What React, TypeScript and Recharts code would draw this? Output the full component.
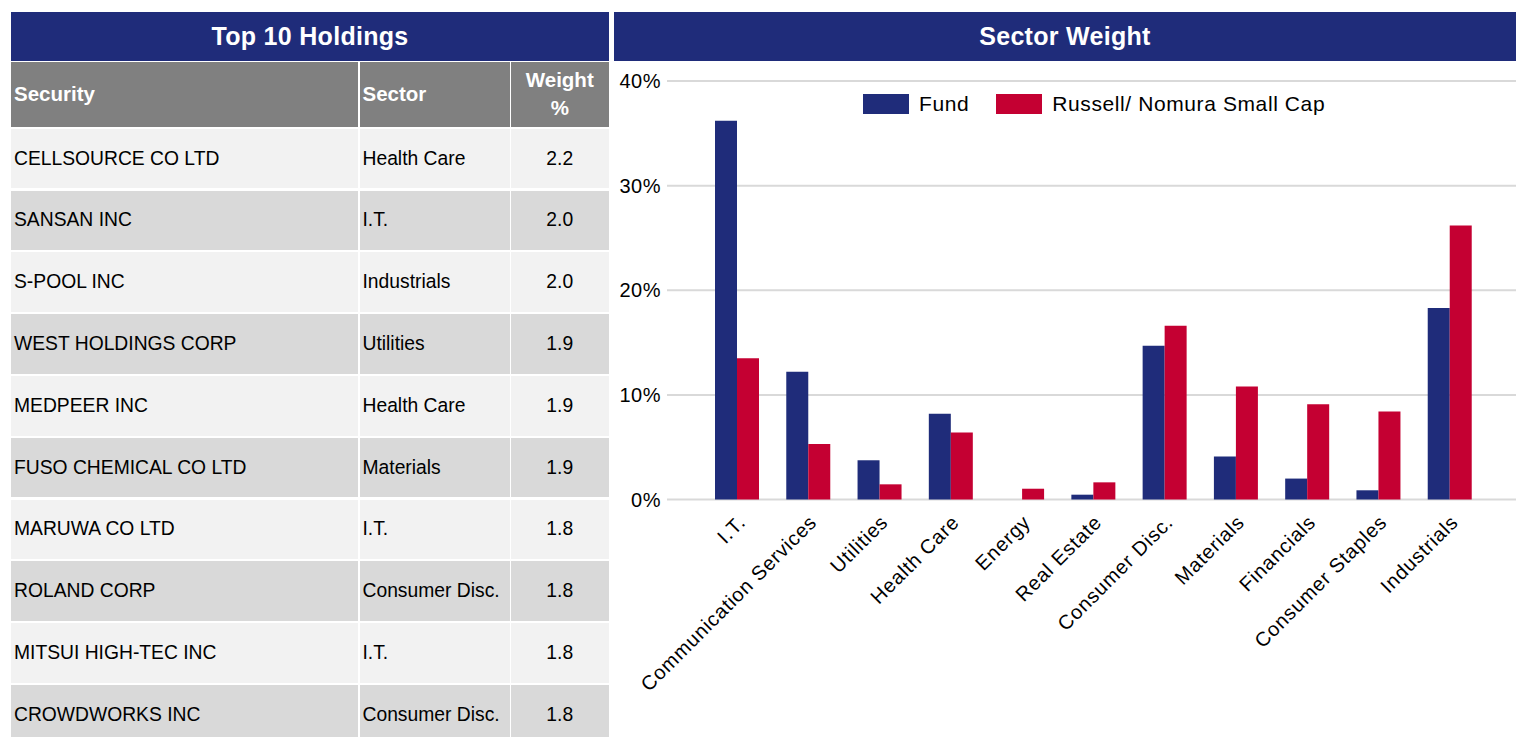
import { Bar, BarChart, CartesianGrid, Legend, XAxis, YAxis } from "recharts"

const securities = [
  "CELLSOURCE CO LTD",
  "SANSAN INC",
  "S-POOL INC",
  "WEST HOLDINGS CORP",
  "MEDPEER INC",
  "FUSO CHEMICAL CO LTD",
  "MARUWA CO LTD",
  "ROLAND CORP",
  "MITSUI HIGH-TEC INC",
  "CROWDWORKS INC",
]
const holdingSectors = [
  "Health Care",
  "I.T.",
  "Industrials",
  "Utilities",
  "Health Care",
  "Materials",
  "I.T.",
  "Consumer Disc.",
  "I.T.",
  "Consumer Disc.",
]
const weights = ["2.2", "2.0", "2.0", "1.9", "1.9", "1.9", "1.8", "1.8", "1.8", "1.8"]

const sectors = [
  "I.T.",
  "Communication Services",
  "Utilities",
  "Health Care",
  "Energy",
  "Real Estate",
  "Consumer Disc.",
  "Materials",
  "Financials",
  "Consumer Staples",
  "Industrials",
]
const fund = [36.2, 12.2, 3.75, 8.2, 0, 0.46, 14.7, 4.1, 2.0, 0.88, 18.3]
const benchmark = [13.5, 5.3, 1.45, 6.4, 1.03, 1.64, 16.6, 10.8, 9.1, 8.4, 26.2]
const yTicks = [0, 10, 20, 30, 40]

const NAVY = "#1f2c7a"
const RED = "#c40032"
const FONT = "'Liberation Sans', Arial, sans-serif"

const data = sectors.map((s, i) => ({
  sector: s,
  Fund: fund[i],
  "Russell/ Nomura Small Cap": benchmark[i],
}))

function ChartLegend() {
  const items = [
    { name: "Fund", color: NAVY },
    { name: "Russell/ Nomura Small Cap", color: RED },
  ]
  return (
    <div style={{ display: "flex", alignItems: "center", fontFamily: FONT, fontSize: 21, letterSpacing: 0.6 }}>
      {items.map((it, i) => (
        <div key={it.name} style={{ display: "flex", alignItems: "center", marginRight: i === 0 ? 27 : 0 }}>
          <span style={{ width: 46, height: 20, background: it.color, marginRight: 10, display: "inline-block" }} />
          <span style={{ color: "#000", whiteSpace: "nowrap" }}>{it.name}</span>
        </div>
      ))}
    </div>
  )
}

function Holdings() {
  const cols = [
    { left: 11, width: 347 },
    { left: 359.5, width: 150 },
    { left: 511, width: 97.5 },
  ]
  return (
    <>
      <div
        style={{
          position: "absolute", left: 11, top: 12, width: 598, height: 48.7, background: NAVY,
          color: "#fff", fontWeight: "bold", fontSize: 25, display: "flex", alignItems: "center",
          justifyContent: "center", letterSpacing: 0.3,
        }}
      >
        Top 10 Holdings
      </div>
      {["Security", "Sector", "Weight\n%"].map((h, c) => (
        <div
          key={h}
          style={{
            position: "absolute", left: cols[c].left, top: 62.3, width: cols[c].width, height: 64.4,
            background: "#808080", color: "#fff", fontWeight: "bold", fontSize: 20.5, display: "flex",
            alignItems: "center", justifyContent: c === 2 ? "center" : "flex-start",
            textAlign: c === 2 ? "center" : "left", whiteSpace: "pre", lineHeight: "28px",
            paddingLeft: c === 2 ? 0 : 3, boxSizing: "border-box",
          }}
        >
          {h}
        </div>
      ))}
      {securities.map((s, r) => {
        const top = 128.7 + r * 61.8
        const bg = r % 2 === 0 ? "#f2f2f2" : "#d9d9d9"
        const cells = [s, holdingSectors[r], weights[r]]
        return cells.map((t, c) => (
          <div
            key={`${r}-${c}`}
            style={{
              position: "absolute", left: cols[c].left, top, width: cols[c].width, height: 59.8,
              background: bg, color: "#000", fontSize: 19.3, display: "flex", alignItems: "center",
              justifyContent: c === 2 ? "center" : "flex-start", paddingLeft: c === 2 ? 0 : 3,
              boxSizing: "border-box", whiteSpace: "nowrap",
            }}
          >
            {t}
          </div>
        ))
      })}
    </>
  )
}

export default function App() {
  return (
    <div
      style={{
        position: "absolute", left: 0, top: 0, width: 1516, height: 737, overflow: "hidden",
        background: "#fff", fontFamily: FONT,
      }}
    >
      <Holdings />
      <div
        style={{
          position: "absolute", left: 614, top: 12, width: 902, height: 48.7, background: NAVY,
          color: "#fff", fontWeight: "bold", fontSize: 25, display: "flex", alignItems: "center",
          justifyContent: "center", letterSpacing: 0.3,
        }}
      >
        Sector Weight
      </div>
      <div style={{ position: "absolute", left: 614, top: 62 }}>
        <BarChart
          width={902}
          height={675}
          data={data}
          margin={{ top: 19, right: 0, left: 0, bottom: 0 }}
          barGap={0}
          style={{ fontFamily: FONT }}
        >
          <CartesianGrid horizontal vertical={false} stroke="#d9d9d9" strokeWidth={2} />
          <XAxis
            dataKey="sector"
            interval={0}
            height={237.5}
            axisLine={false}
            tickLine={false}
            tickSize={6}
            tickMargin={8}
            angle={-45}
            textAnchor="end"
            padding={{ left: 34, right: 31 }}
            tick={{ fill: "#000", fontSize: 20, letterSpacing: 0.8 }}
          />
          <YAxis
            width={53}
            domain={[0, 40]}
            ticks={yTicks}
            axisLine={false}
            tickLine={false}
            tickSize={4}
            tickMargin={2}
            tickFormatter={(v) => `${v}%`}
            tick={{ fill: "#000", fontSize: 20, letterSpacing: 0.5 }}
          />
          <Legend
            layout="horizontal"
            verticalAlign="middle"
            align="center"
            content={() => <ChartLegend />}
            wrapperStyle={{ position: "absolute", top: 30, left: 249, width: "auto" }}
          />
          <Bar dataKey="Fund" fill={NAVY} barSize={22} isAnimationActive={false} />
          <Bar dataKey="Russell/ Nomura Small Cap" fill={RED} barSize={22} isAnimationActive={false} />
        </BarChart>
      </div>
    </div>
  )
}
